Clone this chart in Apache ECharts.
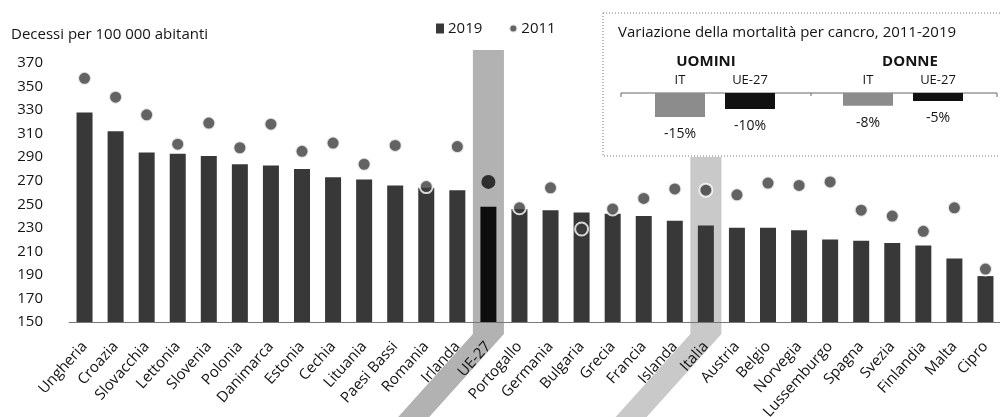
<!DOCTYPE html>
<html>
<head>
<meta charset="utf-8">
<script src="https://cdn.jsdelivr.net/npm/echarts@6/dist/echarts.min.js"></script>
<style>
  html, body { margin: 0; padding: 0; background: #fff; }
  #chart { width: 1000px; height: 417px; }
</style>
</head>
<body>
<div id="chart"></div>
<script>
// dati
const countries = ['Ungheria', 'Croazia', 'Slovacchia', 'Lettonia', 'Slovenia', 'Polonia', 'Danimarca', 'Estonia',
  'Cechia', 'Lituania', 'Paesi Bassi', 'Romania', 'Irlanda', 'UE-27', 'Portogallo', 'Germania', 'Bulgaria',
  'Grecia', 'Francia', 'Islanda', 'Italia', 'Austria', 'Belgio', 'Norvegia', 'Lussemburgo', 'Spagna', 'Svezia',
  'Finlandia', 'Malta', 'Cipro']
const deaths2019 = [328, 312, 294, 293, 291, 284, 283, 280, 273, 271, 266, 264, 262, 248, 246, 245, 243,
  242, 240, 236, 232, 230, 230, 228, 220, 219, 217, 215, 204, 189]
const deaths2011 = [357, 341, 326, 301, 319, 298, 318, 295, 302, 284, 300, 265, 299, 269, 247, 264, 229,
  246, 255, 263, 262, 258, 268, 266, 269, 245, 240, 227, 247, 195]
const yMin = 150
const yMax = 370
const yStep = 20

// riquadro: variazione 2011-2019
const insetCats = ['IT', 'UE-27']
const menChange = [-15, -10]
const womenChange = [-8, -5]

const highlighted = ['UE-27', 'Italia']

const font = 'Open Sans'
const ink = '#141414'
const barColor = '#383838'
const dotColor = '#3c3c3c'
const euColor = '#0d0d0d'
const insetColors = ['#8c8c8c', '#111111']
const labelAngle = 48

const chart = echarts.init(document.getElementById('chart'))

const insetSeries = (data, idx) => ({
  type: 'bar',
  xAxisIndex: idx,
  yAxisIndex: idx,
  barWidth: 50,
  silent: true,
  data: data.map((v, i) => ({ value: v, itemStyle: { color: insetColors[i] } })),
  label: {
    show: true,
    position: 'bottom',
    distance: 10,
    fontSize: 14,
    color: ink,
    formatter: (p) => p.value + '%'
  }
})

const insetX = (idx) => ({
  gridIndex: idx,
  type: 'category',
  data: insetCats,
  position: 'top',
  axisLine: { show: false },
  axisTick: { show: false },
  axisLabel: { margin: 6, fontSize: 13, color: ink }
})

const option = {
  animation: false,
  textStyle: { fontFamily: font },
  title: {
    text: 'Decessi per 100 000 abitanti',
    left: 11,
    top: 27,
    padding: 0,
    textStyle: { fontSize: 15, fontWeight: 'normal', color: ink }
  },
  legend: {
    data: [
      { name: '2019', icon: 'rect' },
      { name: '2011', icon: 'circle' }
    ],
    left: 436,
    top: 21,
    padding: 0,
    itemWidth: 8,
    itemHeight: 10,
    itemGap: 26,
    textStyle: { fontSize: 15, color: ink, padding: [0, 0, 0, -1] }
  },
  grid: [
    { left: 69, width: 932, top: 63, height: 259, outerBoundsMode: 'none' },
    { left: 645, width: 140, top: 93, height: 32, outerBoundsMode: 'none' },
    { left: 833, width: 140, top: 93, height: 32, outerBoundsMode: 'none' }
  ],
  xAxis: [
    {
      gridIndex: 0,
      type: 'category',
      data: countries,
      axisTick: { show: false },
      axisLine: { lineStyle: { color: '#777', width: 1 } },
      axisLabel: { rotate: labelAngle, interval: 0, margin: 22, fontSize: 15, color: ink }
    },
    insetX(1),
    insetX(2)
  ],
  yAxis: [
    {
      gridIndex: 0,
      type: 'value',
      min: yMin,
      max: yMax,
      interval: yStep,
      splitLine: { show: false },
      axisLine: { show: false },
      axisTick: { show: false },
      axisLabel: { margin: 26, fontSize: 15, color: ink }
    },
    { gridIndex: 1, type: 'value', min: -20, max: 0, show: false },
    { gridIndex: 2, type: 'value', min: -20, max: 0, show: false }
  ],
  series: [
    {
      name: '2019',
      type: 'bar',
      barWidth: 16,
      itemStyle: { color: barColor },
      data: deaths2019.map((v, i) => countries[i] === 'UE-27'
        ? { value: v, itemStyle: { color: euColor } }
        : v)
    },
    {
      name: '2011',
      type: 'scatter',
      z: 3,
      symbolSize: 13,
      itemStyle: { color: dotColor, borderColor: '#fff', borderWidth: 2 },
      data: deaths2011.map((v, i) => countries[i] === 'UE-27'
        ? { value: v, itemStyle: { color: euColor, borderWidth: 0 }, symbolSize: 14 }
        : v)
    },
    insetSeries(menChange, 1),
    insetSeries(womenChange, 2)
  ]
}

chart.setOption(option)

// fasce grigie dietro UE-27 e Italia, inclinate come le etichette
const H = 417
const base = chart.convertToPixel({ yAxisIndex: 0 }, yMin)
const half = 932 / countries.length / 2
const slant = 1 / Math.tan(labelAngle * Math.PI / 180)
const knee = base + 12
const bandTops = { 'UE-27': 50, 'Italia': 157 }
const bandColors = { 'UE-27': '#b2b2b2', 'Italia': '#c9c9c9' }

const bands = highlighted.map((name) => {
  const cx = chart.convertToPixel({ xAxisIndex: 0 }, name)
  const xl = cx - half
  const xr = cx + half
  const d = slant * (H - knee)
  return {
    type: 'polygon',
    z: -10,
    silent: true,
    shape: {
      points: [[xl, bandTops[name]], [xr, bandTops[name]], [xr, knee], [xr - d, H], [xl - d, H], [xl, knee]]
    },
    style: { fill: bandColors[name] }
  }
})

const insetText = (text, x, y, opts) => ({
  type: 'text',
  z: 10,
  silent: true,
  x: x,
  y: y,
  style: Object.assign({
    text: text,
    fontFamily: font,
    fontSize: 15,
    fill: ink,
    verticalAlign: 'middle'
  }, opts || {})
})

chart.setOption({
  graphic: bands.concat([
    {
      type: 'rect',
      z: -5,
      silent: true,
      shape: { x: 603, y: 13, width: 420, height: 143 },
      style: { fill: '#fff', stroke: '#7a7a7a', lineWidth: 1, lineDash: [1, 2] }
    },
    insetText('Variazione della mortalità per cancro, 2011-2019', 618, 33),
    insetText('UOMINI', 706, 62, { fontWeight: 'bold', align: 'center' }),
    insetText('DONNE', 910, 62, { fontWeight: 'bold', align: 'center' }),
    {
      type: 'polyline',
      z: 1,
      silent: true,
      shape: { points: [[621, 97], [621, 93], [997, 93], [997, 97]] },
      style: { stroke: '#666', lineWidth: 1, fill: null }
    },
    {
      type: 'line',
      z: 1,
      silent: true,
      shape: { x1: 811, y1: 93, x2: 811, y2: 96 },
      style: { stroke: '#666', lineWidth: 1 }
    }
  ])
})
</script>
</body>
</html>
